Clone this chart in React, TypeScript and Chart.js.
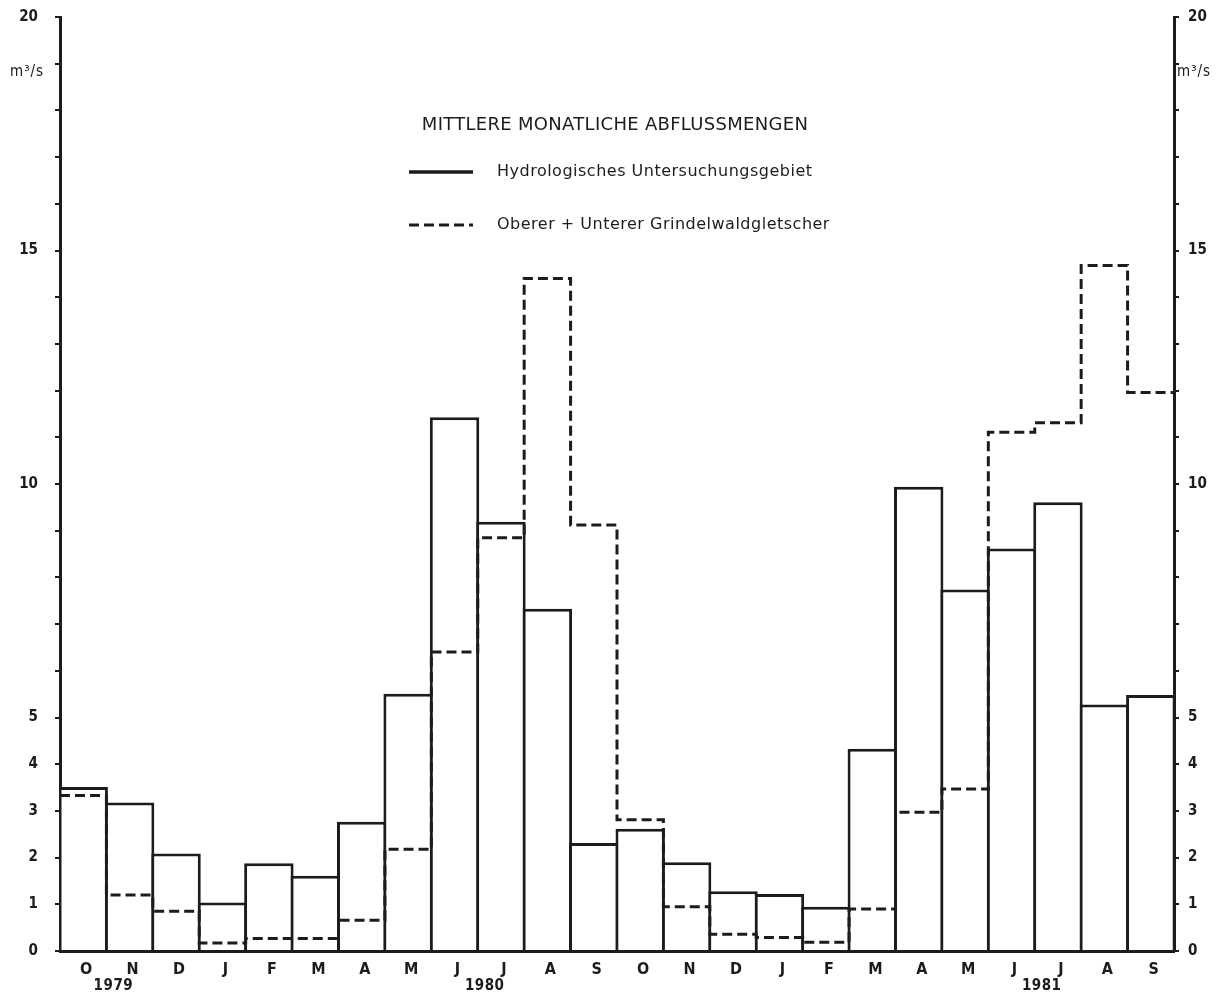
import React, { useEffect, useRef } from 'react';
import { Chart, registerables } from 'chart.js';

Chart.register(...registerables);

const months = ['O', 'N', 'D', 'J', 'F', 'M', 'A', 'M', 'J', 'J', 'A', 'S', 'O', 'N', 'D', 'J', 'F', 'M', 'A', 'M', 'J', 'J', 'A', 'S'];
const years = ['1979', '1980', '1981'];
const yearAfterMonthIndex = [0, 8, 20];
const hydroValues = [3.51, 3.18, 2.09, 1.04, 1.88, 1.61, 2.77, 5.51, 11.43, 9.19, 7.33, 2.31, 2.62, 1.9, 1.28, 1.22, 0.95, 4.33, 9.94, 7.74, 8.62, 9.61, 5.28, 5.48];
const glacierValues = [3.33, 1.2, 0.85, 0.17, 0.27, 0.27, 0.66, 2.18, 6.4, 8.85, 14.4, 9.12, 2.81, 0.95, 0.36, 0.29, 0.19, 0.9, 2.97, 3.47, 11.11, 11.31, 14.68, 11.96];
const yLabelValues = [0, 1, 2, 3, 4, 5, 10, 15, 20];
const chartTitle = 'MITTLERE MONATLICHE ABFLUSSMENGEN';
const seriesNames = ['Hydrologisches Untersuchungsgebiet', 'Oberer + Unterer Grindelwaldgletscher'];
const unitLabel = 'm³/s';

const INK = '#1c1c1c';
const SANS = '"DejaVu Sans", sans-serif';
const COND = '"DejaVu Sans Condensed", "DejaVu Sans", sans-serif';

export default function App() {
  const canvasRef = useRef<HTMLCanvasElement>(null);

  useEffect(() => {
    const canvas = canvasRef.current;
    if (!canvas) return;

    const hydroPoints = hydroValues.map((v, i) => ({ x: i, y: v }));
    const glacierSteps = glacierValues
      .map((v, i) => ({ x: i - 0.5, y: v }))
      .concat([{ x: glacierValues.length - 0.5, y: glacierValues[glacierValues.length - 1] }]);

    const textPlugin = {
      id: 'texts',
      afterDraw(chart: any) {
        const ctx = chart.ctx as any;
        const xs = chart.scales.x;
        ctx.save();
        ctx.fillStyle = INK;
        ctx.strokeStyle = INK;

        // title
        ctx.font = `18px ${SANS}`;
        ctx.letterSpacing = '0.3px';
        ctx.textAlign = 'center';
        ctx.textBaseline = 'middle';
        ctx.fillText(chartTitle, 615, 125);

        // legend
        ctx.font = `16px ${SANS}`;
        ctx.letterSpacing = '0.5px';
        ctx.textAlign = 'left';
        ctx.lineWidth = 3.5;
        ctx.setLineDash([]);
        ctx.beginPath();
        ctx.moveTo(409, 172);
        ctx.lineTo(473, 172);
        ctx.stroke();
        ctx.fillText(seriesNames[0], 497, 172);
        ctx.lineWidth = 3;
        ctx.setLineDash([10, 5]);
        ctx.beginPath();
        ctx.moveTo(409, 225);
        ctx.lineTo(473, 225);
        ctx.stroke();
        ctx.setLineDash([]);
        ctx.fillText(seriesNames[1], 497, 225);

        // unit labels
        ctx.font = `15px ${COND}`;
        ctx.letterSpacing = '1px';
        ctx.textAlign = 'left';
        ctx.fillText(unitLabel, 10, 72);
        ctx.fillText(unitLabel, 1177, 72);

        // year labels
        ctx.textAlign = 'center';
        ctx.letterSpacing = '0.5px';
        ctx.font = `bold 15px ${COND}`;
        years.forEach((yr, k) => {
          const i = yearAfterMonthIndex[k];
          const px = xs.getPixelForValue(i + 0.65);
          ctx.fillText(yr, px, 986);
        });
        ctx.restore();
      },
    };

    const tickFont = { family: COND, size: 15, weight: 'bold' as const };
    const yTicks = {
      stepSize: 1,
      autoSkip: false,
      color: INK,
      font: tickFont,
      callback: (v: any) => (yLabelValues.includes(Number(v)) ? String(v) : ''),
    };

    const chart = new Chart(canvas, {
      type: 'bar',
      data: {
        datasets: [
          {
            type: 'bar',
            label: seriesNames[0],
            data: hydroPoints,
            backgroundColor: '#ffffff',
            borderColor: INK,
            borderWidth: 3,
            borderSkipped: 'start',
            barPercentage: 1.065,
            categoryPercentage: 1,
            grouped: false,
            order: 1,
            xAxisID: 'x',
            yAxisID: 'y',
          } as any,
          {
            type: 'line',
            label: seriesNames[1],
            data: glacierSteps,
            stepped: true,
            borderColor: INK,
            borderWidth: 3,
            borderDash: [10, 5],
            pointRadius: 0,
            fill: false,
            order: 0,
            xAxisID: 'x',
            yAxisID: 'y',
          } as any,
        ],
      },
      options: {
        animation: false,
        responsive: false,
        maintainAspectRatio: false,
        layout: { padding: { top: 17, left: 0, right: 0, bottom: 0 } },
        plugins: {
          legend: { display: false },
          title: { display: false },
          tooltip: { enabled: false },
        },
        scales: {
          x: {
            type: 'linear',
            offset: false,
            min: -0.5,
            max: months.length - 0.5,
            grid: { display: false, offset: false },
            border: { display: true, color: INK, width: 3 },
            afterBuildTicks: (s: any) => {
              s.ticks = months.map((_, i) => ({ value: i }));
            },
            ticks: {
              color: INK,
              font: { family: COND, size: 16, weight: 'bold' },
              padding: 1,
              labelOffset: 3,
              maxRotation: 0,
              autoSkip: false,
              callback: (v: any) => months[Math.round(Number(v))] ?? '',
            },
            afterFit: (s: any) => {
              s.height = 54;
              s.paddingLeft = 0;
              s.paddingRight = 0;
            },
          },
          y: {
            position: 'left',
            min: 0,
            max: 20,
            ticks: { ...yTicks, padding: 17 },
            grid: { drawOnChartArea: false, drawTicks: true, tickLength: 5, color: INK, lineWidth: 2 },
            border: { display: true, color: INK, width: 3 },
            afterFit: (s: any) => {
              s.width = 60;
              s.paddingTop = 0;
              s.paddingBottom = 0;
            },
          },
          y2: {
            position: 'right',
            min: 0,
            max: 20,
            ticks: { ...yTicks, padding: 9 },
            grid: { drawOnChartArea: false, drawTicks: true, tickLength: 5, color: INK, lineWidth: 2 },
            border: { display: true, color: INK, width: 3 },
            afterFit: (s: any) => {
              s.width = 47;
              s.paddingTop = 0;
              s.paddingBottom = 0;
            },
          },
        } as any,
      },
      plugins: [textPlugin],
    });

    return () => chart.destroy();
  }, []);

  return (
    <div style={{ position: 'fixed', left: 0, top: 0, width: 1221, height: 1005, background: '#fff' }}>
      <canvas ref={canvasRef} width={1221} height={1005} style={{ display: 'block', width: 1221, height: 1005 }} />
    </div>
  );
}
